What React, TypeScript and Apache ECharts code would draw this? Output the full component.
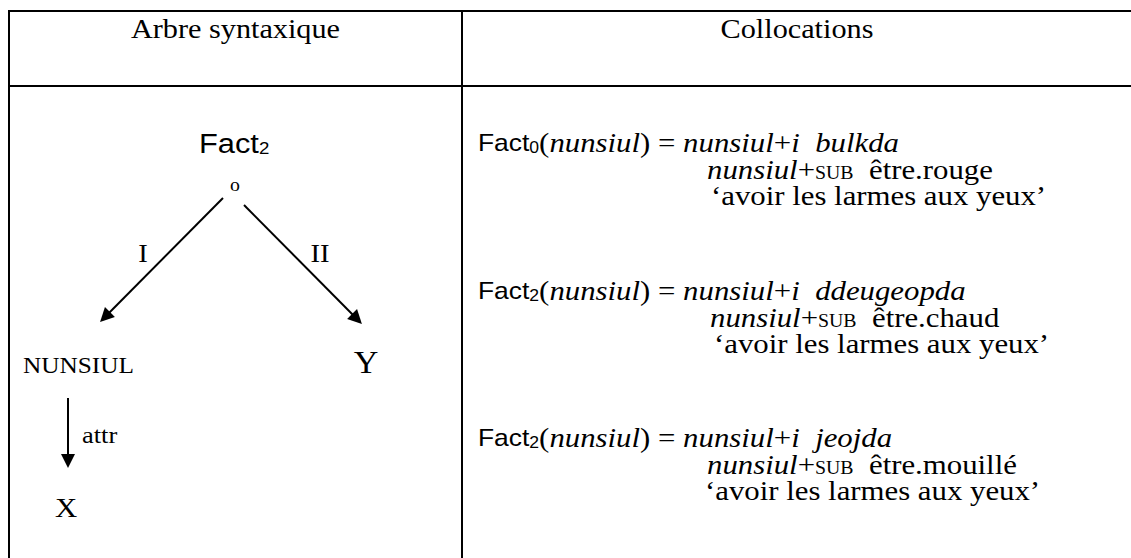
import React, { useEffect, useRef } from 'react';
import * as echarts from 'echarts';

const W = 1131;
const H = 558;

// ---- content ----
const headers = ['Arbre syntaxique', 'Collocations'];
const treeRootName = 'Fact';
const treeRootSub = '2';
const rootMark = 'o';
const relationLabels = ['I', 'II', 'attr'];
const treeNodes = ['NUNSIUL', 'Y', 'X'];

const factSubs = ['0', '2', '2'];
const keyword = 'nunsiul';
const koreanVerbs = ['bulkda', 'ddeugeopda', 'jeojda'];
const frenchGlosses = ['être.rouge', 'être.chaud', 'être.mouillé'];
const subMarker = 'SUB';
const idiomGloss = 'avoir les larmes aux yeux';

// arrows of the tree: [start, end]
const arrowCoords: number[][][] = [
  [[223, 198], [105, 317]],
  [[244, 205], [357, 319]],
  [[68, 398], [68, 461]],
];

// ---- layout ----
const SERIF = "'Liberation Serif', 'Times New Roman', serif";
const SANS = "'Liberation Sans', Arial, sans-serif";
const SX = 1.1;
const groupY = [142.5, 290.5, 437.5];
const lineGap = [0, 27, 53];
const line1X = 478;
const line2X = [707, 710, 707];
const line3X = [711, 714, 705];

const rich: any = {
  f: { fontFamily: SANS, fontSize: 24, verticalAlign: 'middle' },
  ft: { fontFamily: SANS, fontSize: 28, verticalAlign: 'middle' },
  s: { fontFamily: SANS, fontSize: 16, padding: [10, 0, 0, 0], verticalAlign: 'middle' },
  st: { fontFamily: SANS, fontSize: 17, padding: [10, 0, 0, 0], verticalAlign: 'middle' },
  r: { fontFamily: SERIF, fontSize: 28, verticalAlign: 'middle' },
  i: { fontFamily: SERIF, fontSize: 28, fontStyle: 'italic', verticalAlign: 'middle' },
  sc: { fontFamily: SERIF, fontSize: 18, padding: [7, 0, 0, 0], verticalAlign: 'middle' },
};

function txt(text: string, x: number, y: number, size: number, align = 'left', family = SERIF, useRich = false) {
  const style: any = {
    text,
    fill: '#000',
    align,
    verticalAlign: 'middle',
    fontFamily: family,
    fontSize: size,
  };
  if (useRich) style.rich = rich;
  return { type: 'text', x, y, scaleX: SX, silent: true, style };
}

function rule(x1: number, y1: number, x2: number, y2: number) {
  return {
    type: 'line',
    silent: true,
    shape: { x1, y1, x2, y2 },
    style: { stroke: '#000', lineWidth: 2 },
  };
}

function buildGraphic() {
  const els: any[] = [];
  // table rules
  els.push(rule(8, 11, W, 11));
  els.push(rule(9, 86, W, 86));
  els.push(rule(9, 10, 9, H));
  els.push(rule(462, 10, 462, H));
  // headers
  els.push(txt(headers[0], 235.5, 28.5, 27.5, 'center'));
  els.push(txt(headers[1], 797, 28.5, 27.5, 'center'));
  // tree
  els.push(txt(`{ft|${treeRootName}}{st|${treeRootSub}}`, 199, 143, 28, 'left', SANS, true));
  els.push(txt(rootMark, 235, 185, 18, 'center'));
  els.push(txt(relationLabels[0], 143, 253, 26, 'center'));
  els.push(txt(relationLabels[1], 320, 253, 26, 'center'));
  els.push(txt(relationLabels[2], 82, 435, 24, 'left'));
  els.push(txt(treeNodes[0], 23, 365, 23, 'left'));
  els.push(txt(treeNodes[1], 366, 363, 31, 'center'));
  els.push(txt(treeNodes[2], 66, 507, 28, 'center'));
  // collocations
  factSubs.forEach((sub, k) => {
    const y0 = groupY[k];
    const l1 = `{f|Fact}{s|${sub}}{r|(}{i|${keyword}}{r|) = }{i|${keyword}}{r|+}{i|i}{r|  }{i|${koreanVerbs[k]}}`;
    const l2 = `{i|${keyword}}{r|+}{sc|${subMarker}}{r|  ${frenchGlosses[k]}}`;
    const l3 = `\u2018${idiomGloss}\u2019`;
    els.push(txt(l1, line1X, y0 + lineGap[0], 28, 'left', SERIF, true));
    els.push(txt(l2, line2X[k], y0 + lineGap[1], 28, 'left', SERIF, true));
    els.push(txt(l3, line3X[k], y0 + lineGap[2], 28, 'left'));
  });
  return els;
}

const option: any = {
  animation: false,
  backgroundColor: '#fff',
  grid: { left: 0, right: 0, top: 0, bottom: 0 },
  xAxis: { type: 'value', min: 0, max: W, show: false },
  yAxis: { type: 'value', min: 0, max: H, inverse: true, show: false },
  graphic: buildGraphic(),
  series: [
    {
      type: 'lines',
      coordinateSystem: 'cartesian2d',
      silent: true,
      symbol: ['none', 'triangle'],
      symbolSize: 14,
      lineStyle: { color: '#000', width: 2, opacity: 1, curveness: 0 },
      itemStyle: { color: '#000' },
      data: arrowCoords.map((c) => ({ coords: c })),
    },
  ],
};

export default function App() {
  const ref = useRef<HTMLDivElement>(null);
  useEffect(() => {
    const chart = echarts.init(ref.current!, null, { renderer: 'svg' });
    chart.setOption(option);
    return () => chart.dispose();
  }, []);
  return (
    <div
      ref={ref}
      style={{ position: 'fixed', left: 0, top: 0, width: W, height: H, background: '#fff' }}
    />
  );
}
